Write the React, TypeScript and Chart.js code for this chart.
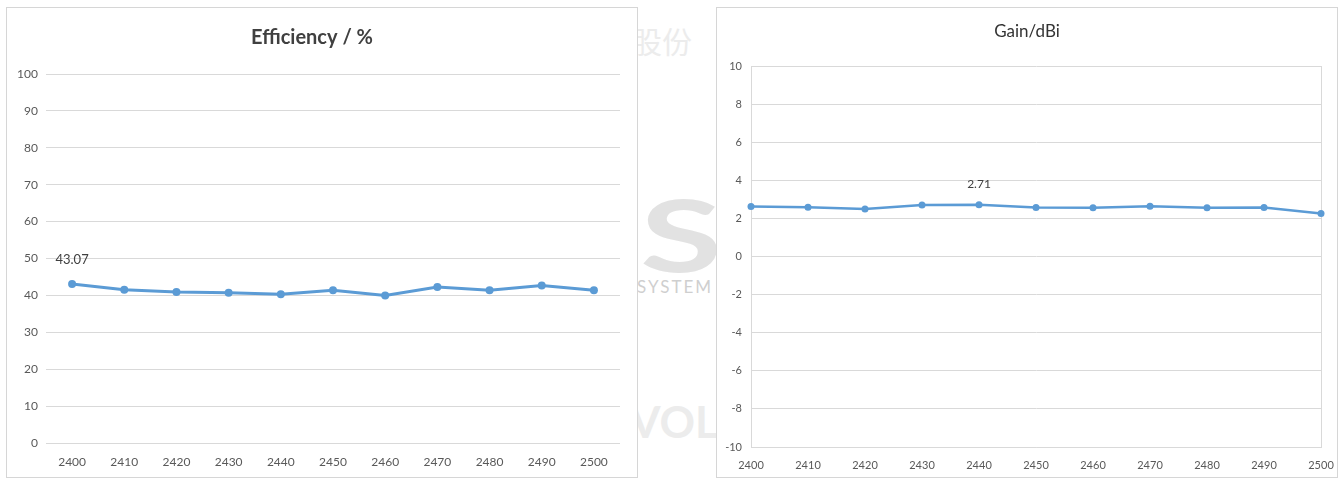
import React, { useEffect, useRef } from "react";
import { Chart, registerables } from "chart.js";

Chart.register(...registerables);

const frequencies = ["2400", "2410", "2420", "2430", "2440", "2450", "2460", "2470", "2480", "2490", "2500"];
const efficiency = [43.07, 41.5, 40.9, 40.7, 40.3, 41.4, 40.0, 42.3, 41.4, 42.7, 41.4];
const gain = [2.63, 2.59, 2.49, 2.7, 2.71, 2.57, 2.56, 2.64, 2.56, 2.57, 2.26];
const efficiencyTitle = "Efficiency / %";
const gainTitle = "Gain/dBi";
const efficiencyLabelIndex = 0;
const gainLabelIndex = 4;

const FONT = "Lato, 'Open Sans', sans-serif";
const LINE = "#5b9bd5";
const GRID = "#d9d9d9";
const TEXT = "#595959";

const fixedTitle = {
  id: "fixedTitle",
  afterDraw(chart: any, _args: any, opts: any) {
    const ctx = chart.ctx;
    ctx.save();
    ctx.font = opts.font;
    ctx.fillStyle = opts.color;
    ctx.textAlign = "center";
    ctx.textBaseline = "middle";
    ctx.fillText(opts.text, opts.x, opts.y);
    ctx.restore();
  },
};

const pointLabel = {
  id: "pointLabel",
  afterDatasetsDraw(chart: any, _args: any, opts: any) {
    const meta = chart.getDatasetMeta(0);
    const el = meta.data[opts.index];
    if (!el) return;
    const v = chart.data.datasets[0].data[opts.index];
    const ctx = chart.ctx;
    ctx.save();
    ctx.font = opts.font;
    ctx.fillStyle = opts.color;
    ctx.textAlign = "center";
    ctx.textBaseline = "middle";
    ctx.fillText(Number(v).toFixed(2), el.x + opts.dx, el.y + opts.dy);
    ctx.restore();
  },
};

function EfficiencyChart() {
  const ref = useRef<HTMLCanvasElement>(null);
  useEffect(() => {
    const chart = new Chart(ref.current!, {
      type: "line",
      data: {
        labels: frequencies,
        datasets: [
          {
            data: efficiency,
            borderColor: LINE,
            backgroundColor: LINE,
            borderWidth: 3,
            pointRadius: 4,
            pointBorderWidth: 0,
            pointBackgroundColor: LINE,
            tension: 0,
          },
        ],
      },
      options: {
        animation: false,
        responsive: false,
        devicePixelRatio: 1,
        layout: { padding: { left: 0, right: 17, top: 66, bottom: 0 } },
        plugins: {
          legend: { display: false },
          tooltip: { enabled: false },
          fixedTitle: { text: efficiencyTitle, x: 305, y: 30, font: `bold 20px ${FONT}`, color: "#404040" },
          pointLabel: { index: efficiencyLabelIndex, dx: 0, dy: -24, font: `13px ${FONT}`, color: "#404040" },
        } as any,
        scales: {
          x: {
            offset: true,
            grid: { display: false, drawTicks: false },
            border: { display: false },
            ticks: { color: TEXT, font: { family: FONT, size: 12 }, padding: 12, maxRotation: 0 },
            afterFit: (s: any) => { s.height = 34; },
          },
          y: {
            min: 0,
            max: 100,
            ticks: { stepSize: 10, color: TEXT, font: { family: FONT, size: 12 }, padding: 8 },
            grid: { color: GRID, drawTicks: false },
            border: { display: false },
            afterFit: (s: any) => { s.width = 39; },
          },
        },
      },
      plugins: [fixedTitle, pointLabel],
    } as any);
    return () => chart.destroy();
  }, []);
  return <canvas ref={ref} width={630} height={469} style={{ display: "block" }} />;
}

function GainChart() {
  const ref = useRef<HTMLCanvasElement>(null);
  useEffect(() => {
    const last = frequencies.length - 1;
    const chart = new Chart(ref.current!, {
      type: "line",
      data: {
        labels: frequencies,
        datasets: [
          {
            data: gain,
            borderColor: LINE,
            backgroundColor: LINE,
            borderWidth: 2.5,
            pointRadius: 3.5,
            pointBorderWidth: 0,
            pointBackgroundColor: LINE,
            tension: 0,
          },
        ],
      },
      options: {
        animation: false,
        responsive: false,
        devicePixelRatio: 1,
        layout: { padding: { left: 0, right: 16, top: 58, bottom: 0 } },
        plugins: {
          legend: { display: false },
          tooltip: { enabled: false },
          fixedTitle: { text: gainTitle, x: 310, y: 24, font: `17px ${FONT}`, color: "#333333" },
          pointLabel: { index: gainLabelIndex, dx: 0, dy: -21, font: `12px ${FONT}`, color: "#404040" },
        } as any,
        scales: {
          x: {
            offset: false,
            grid: {
              drawTicks: false,
              color: (c: any) => (c.index === 0 || c.index === last ? GRID : "rgba(0,0,0,0)"),
            },
            border: { display: true, color: GRID },
            ticks: { color: TEXT, font: { family: FONT, size: 11 }, padding: 12, maxRotation: 0 },
            afterFit: (s: any) => { s.height = 30; s.paddingLeft = 0; s.paddingRight = 0; },
          },
          y: {
            min: -10,
            max: 10,
            ticks: { stepSize: 2, color: TEXT, font: { family: FONT, size: 11 }, padding: 9 },
            grid: { color: GRID, drawTicks: false },
            border: { display: true, color: GRID },
            afterFit: (s: any) => { s.width = 34; s.paddingTop = 0; s.paddingBottom = 0; },
          },
        },
      },
      plugins: [fixedTitle, pointLabel],
    } as any);
    return () => chart.destroy();
  }, []);
  return <canvas ref={ref} width={620} height={469} style={{ display: "block" }} />;
}

export default function App() {
  const panel: React.CSSProperties = {
    position: "absolute",
    top: 7,
    height: 471,
    border: "1px solid #d6d6d6",
    background: "#ffffff",
    boxSizing: "border-box",
  };
  return (
    <div style={{ position: "absolute", left: 0, top: 0, width: 1342, height: 483, background: "#fff", overflow: "hidden" }}>
      <div style={{ position: "absolute", left: 640, top: 183, fontFamily: FONT, fontWeight: 700, fontSize: 100, color: "#e2e2e2", lineHeight: "100px", transform: "scaleX(1.5)", transformOrigin: "left top" }}>S</div>
      <div style={{ position: "absolute", left: 637, top: 276, fontFamily: FONT, fontSize: 17, letterSpacing: 2, color: "#cfcfcf" }}>SYSTEM</div>
      <div style={{ position: "absolute", left: 630, top: 395, fontFamily: FONT, fontWeight: 700, fontSize: 44, color: "#ececec" }}>VOLO</div>
      <div style={{ position: "absolute", left: 632, top: 18, fontFamily: "'Noto Sans CJK SC'", fontSize: 30, color: "#ececec" }}>股份</div>
      <div style={{ ...panel, left: 6, width: 632 }}>
        <EfficiencyChart />
      </div>
      <div style={{ ...panel, left: 716, width: 622 }}>
        <GainChart />
      </div>
    </div>
  );
}
